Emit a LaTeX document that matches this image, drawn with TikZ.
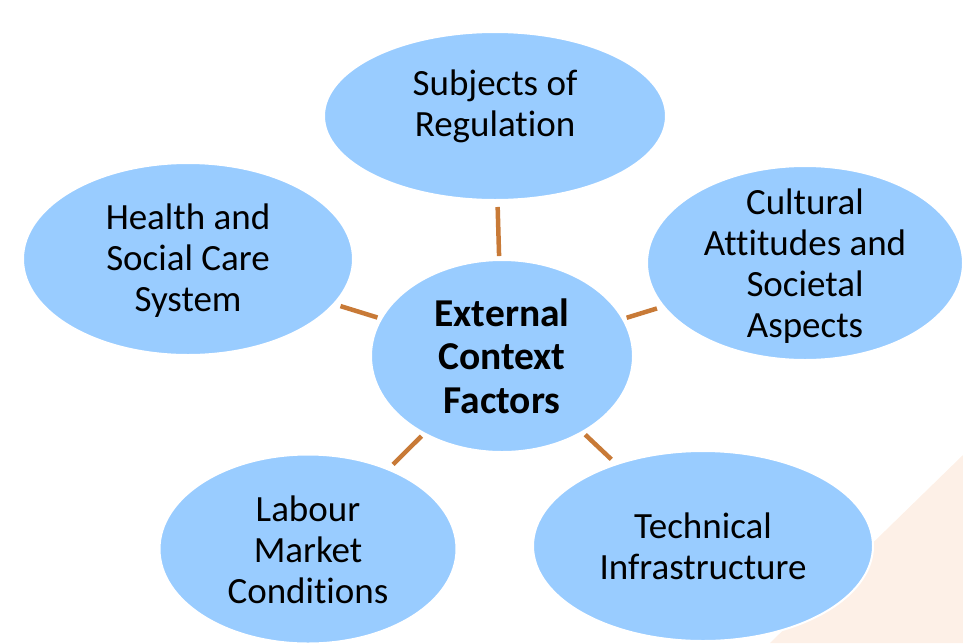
\documentclass[tikz,border=0pt]{standalone}
\usepackage{fontspec}
\setmainfont[Ligatures=NoCommon]{Carlito}
\usepackage{xcolor}
\usetikzlibrary{shapes.geometric}
\definecolor{bubbleblue}{HTML}{99CCFF}
\definecolor{linkbrown}{HTML}{C87A37}
\definecolor{peach}{HTML}{FDF0E7}
\tikzset{
  bubble/.style={ellipse, fill=bubbleblue, draw=white, line width=2pt, inner sep=0pt},
  txt/.style={align=center, font=\fontsize{37}{41}\selectfont},
  hubtxt/.style={align=center, font=\fontsize{39.5}{43.5}\selectfont\bfseries},
  link/.style={draw=linkbrown, line width=4.5pt, shorten <=3pt, shorten >=6pt}
}
\begin{document}
\begin{tikzpicture}[x=1pt,y=-1pt]
\useasboundingbox (0,0) rectangle (963,643);
% slide background corner
\fill[peach] (963,455) -- (770,643) -- (963,643) -- cycle;

\node[bubble, minimum width=262, minimum height=192] (hub) at (502,356) {};
\node[bubble, minimum width=342, minimum height=168] (subj) at (495,116) {};
\node[bubble, minimum width=330, minimum height=192] (health) at (188,259) {};
\node[bubble, minimum width=316, minimum height=194] (cult) at (805,263) {};
\node[bubble, minimum width=297, minimum height=189] (labour) at (308,549) {};
\node[bubble, minimum width=340, minimum height=190] (tech) at (703,546) {};

\node[hubtxt] (hubtxt) at (hub) {External\\Context\\Factors};
\node[txt] (subjtxt) at ([yshift=10pt]subj.center) {Subjects of\\Regulation};
\node[txt] (healthtxt) at ([yshift=-2pt]health.center) {Health and\\Social Care\\System};
\node[txt] (culttxt) at ([yshift=-3pt]cult.center) {Cultural\\Attitudes and\\Societal\\Aspects};
\node[txt] (labourtxt) at ([yshift=-1pt]labour.center) {Labour\\Market\\Conditions};
\node[txt] (techtxt) at (tech) {Technical\\Infrastructure};

\draw[link] (hub) -- (subj);
\draw[link] (hub) -- (health);
\draw[link] (hub) -- (cult);
\draw[link] (hub) -- (labour);
\draw[link] (hub) -- (tech);
\end{tikzpicture}
\end{document}
